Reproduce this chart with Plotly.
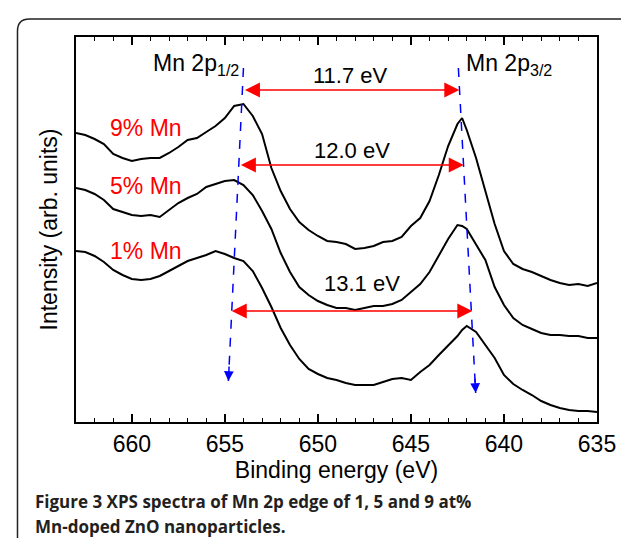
import plotly.graph_objects as go

# binding energy (eV) and intensity (arb. units)
energy = [663.0, 662.5, 662.0, 661.5, 661.0, 660.5, 660.0, 659.5, 659.0, 658.5,
          658.0, 657.5, 657.0, 656.5, 656.0, 655.5, 655.0, 654.5, 654.0, 653.5,
          653.0, 652.5, 652.0, 651.5, 651.0, 650.5, 650.0, 649.5, 649.0, 648.5,
          648.0, 647.5, 647.0, 646.5, 646.0, 645.5, 645.0, 644.5, 644.0, 643.5,
          643.0, 642.5, 642.25, 642.0, 641.5, 641.0, 640.5, 640.0, 639.5, 639.0,
          638.5, 638.0, 637.5, 637.0, 636.5, 636.0, 635.5, 635.0]

mn9 = [289, 287, 283, 278, 268, 264, 261, 263, 264, 264,
       269, 275, 282, 284, 290, 296, 304, 316, 318, 306,
       288, 254, 231, 213, 200, 192, 186, 181, 180, 178,
       173, 174, 176, 180, 181, 185, 196, 204, 221, 247,
       276, 298, 304, 292, 264, 232, 198, 171, 158, 153,
       150, 146, 142, 139, 137, 138, 136, 139]

mn5 = [234, 232, 228, 222, 213, 210, 207, 206, 207, 205,
       212, 219, 224, 228, 235, 238, 241, 242, 237, 227,
       211, 193, 169, 150, 135, 127, 121, 117, 114, 114,
       112, 114, 116, 116, 118, 122, 130, 138, 150, 167,
       183, 197, 196, 193, 178, 162, 135, 117, 104, 97,
       93, 89, 87, 87, 86, 86, 84, 84]

mn1 = [171, 170, 166, 160, 152, 147, 143, 142, 143, 146,
       151, 156, 161, 164, 167, 171, 168, 164, 161, 151,
       134, 115, 94, 77, 63, 53, 48, 44, 42, 39,
       37, 37, 37, 40, 43, 44, 42, 50, 57, 67,
       76, 86, 92, 96, 90, 77, 64, 47, 38, 32,
       27, 21, 17, 14, 12, 11, 11, 10]

series = [("9% Mn", mn9, 659.25, 294),
          ("5% Mn", mn5, 659.25, 236),
          ("1% Mn", mn1, 659.25, 171)]

# splitting arrows: (left eV, right eV, height, label, label eV, label height)
splits = [(654.0, 642.4, 332, "11.7 eV", 648.27, 347),
          (654.22, 642.16, 257, "12.0 eV", 648.16, 272),
          (654.71, 641.7, 111, "13.1 eV", 647.63, 139)]

# guide lines through the peaks: (top eV, top y, bottom eV, bottom y)
guides = [(654.0, 354, 654.81, 41),
          (642.45, 354, 641.52, 29)]

FONT = "Liberation Sans, Arial, sans-serif"

fig = go.Figure()
for name, vals, lx, ly in series:
    fig.add_trace(go.Scatter(x=energy, y=vals, mode="lines", name=name,
                             line=dict(color="black", width=2)))

annotations = []
for name, vals, lx, ly in series:
    annotations.append(dict(x=lx, y=ly, text=name, showarrow=False,
                            font=dict(color="red", size=23, family=FONT)))

for left, right, h, txt, tx, ty in splits:
    annotations.append(dict(x=right, y=h, ax=left, ay=h, xref="x", yref="y",
                            axref="x", ayref="y", text="", showarrow=True,
                            arrowhead=2, startarrowhead=2, arrowside="end+start",
                            arrowsize=2.0, startarrowsize=2.0, arrowwidth=1.5,
                            arrowcolor="red"))
    annotations.append(dict(x=tx, y=ty, text=txt, showarrow=False,
                            font=dict(color="black", size=22, family=FONT)))

shapes = []
for x0, y0, x1, y1 in guides:
    shapes.append(dict(type="line", xref="x", yref="y", x0=x0, y0=y0, x1=x1, y1=y1,
                       line=dict(color="blue", width=1.5, dash="dash")))
    slope = (x1 - x0) / (y1 - y0)
    annotations.append(dict(x=x1, y=y1, ax=x1 + slope * 16, ay=y1 + 16,
                            xref="x", yref="y", axref="x", ayref="y", text="",
                            showarrow=True, arrowhead=2, arrowsize=1.3,
                            arrowwidth=1.5, arrowcolor="blue"))

annotations.append(dict(x=658.98, y=358, xanchor="left", text="Mn 2p<sub>1/2</sub>",
                        showarrow=False, font=dict(size=23, family=FONT, color="black")))
annotations.append(dict(x=642.16, y=358, xanchor="left", text="Mn 2p<sub>3/2</sub>",
                        showarrow=False, font=dict(size=23, family=FONT, color="black")))

# figure caption
cap_font = dict(family="Open Sans, sans-serif", size=17, color="#231f20")
annotations.append(dict(xref="paper", yref="paper", x=-0.0825, y=-0.2060,
                        xanchor="left", yanchor="middle", showarrow=False,
                        text="<b>Figure 3 XPS spectra of Mn 2p edge of 1, 5 and 9 at%</b>",
                        font=cap_font))
annotations.append(dict(xref="paper", yref="paper", x=-0.0825, y=-0.2710,
                        xanchor="left", yanchor="middle", showarrow=False,
                        text="<b>Mn-doped ZnO nanoparticles.</b>", font=cap_font))

# rounded frame around the whole figure
rx, ry = 12 / 521, 12 / 385
L, R, T, B = -0.1123, 1.0729, 1.0468, -0.40
frame = (f"M{L},{B} L{L},{T - ry} Q{L},{T} {L + rx},{T} "
         f"L{R - rx},{T} Q{R},{T} {R},{T - ry} L{R},{B}")
shapes.append(dict(type="path", xref="paper", yref="paper", path=frame,
                   line=dict(color="#222222", width=1.5)))

fig.update_layout(
    width=629, height=538,
    margin=dict(l=68, r=40, t=29, b=124),
    paper_bgcolor="white", plot_bgcolor="white",
    showlegend=False,
    font=dict(family=FONT, color="black"),
    annotations=annotations,
    shapes=shapes,
    xaxis=dict(range=[663, 635], dtick=5, tick0=635,
               ticks="inside", ticklen=8, tickwidth=1.5, tickcolor="black",
               minor=dict(dtick=1, ticks="inside", ticklen=4, tickwidth=1.2,
                          tickcolor="black"),
               showline=True, linewidth=2, linecolor="black", mirror="ticks",
               showgrid=False, zeroline=False,
               tickfont=dict(size=23, family=FONT),
               title=dict(text="Binding energy (eV)", font=dict(size=23, family=FONT),
                          standoff=0)),
    yaxis=dict(range=[0, 385], showticklabels=False, ticks="",
               showline=True, linewidth=2, linecolor="black", mirror=True,
               showgrid=False, zeroline=False,
               title=dict(text="Intensity (arb. units)", font=dict(size=23, family=FONT),
                          standoff=10)),
)

fig.write_html("out.html")
